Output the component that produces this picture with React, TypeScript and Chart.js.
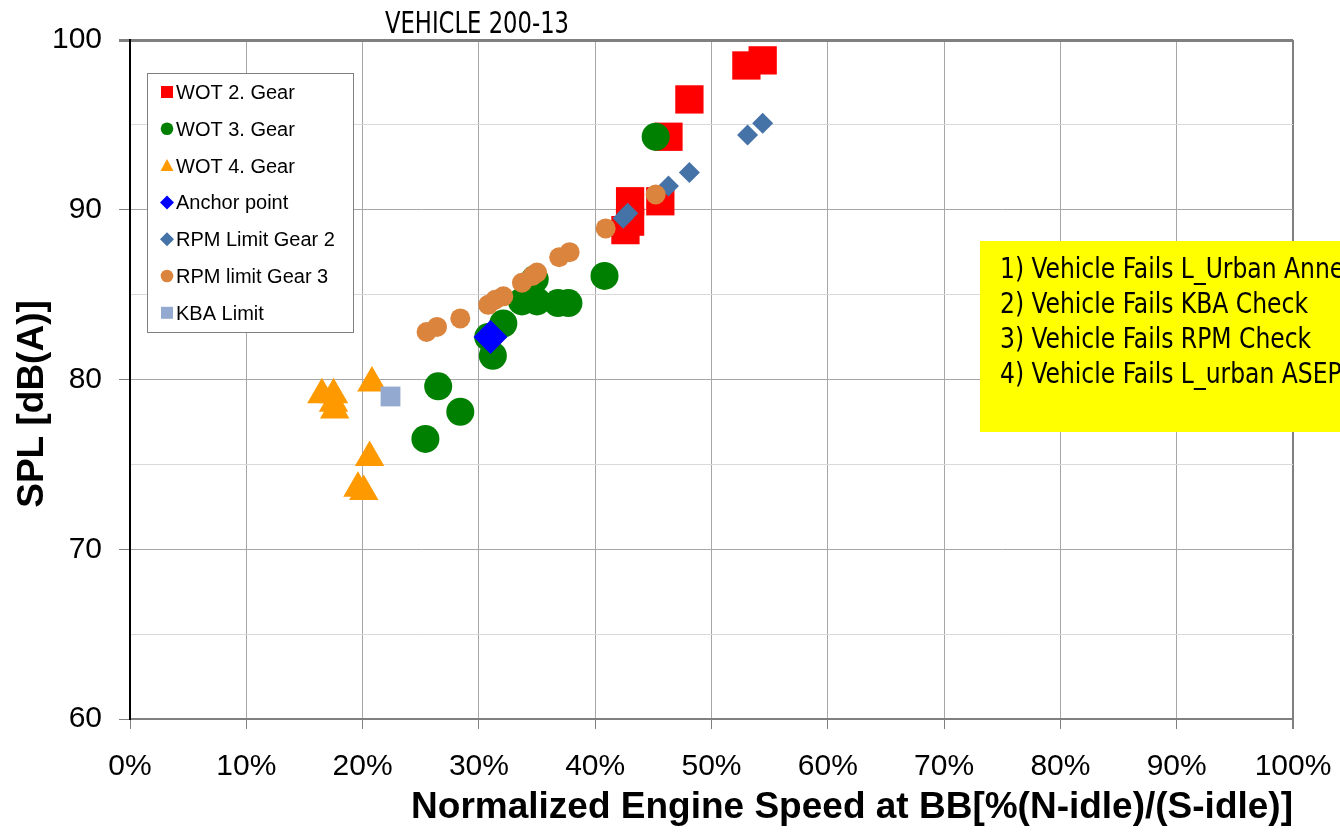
import React, { useEffect, useRef } from "react";
import { Chart, registerables } from "chart.js";

Chart.register(...registerables);

const FONT = "'Liberation Sans', Arial, Helvetica, sans-serif";
const NARROW = "'Liberation Sans Narrow', 'Arial Narrow', 'DejaVu Sans Condensed', sans-serif";

// ---- texts ----
const chartTitle = "VEHICLE 200-13";
const xAxisTitle = "Normalized Engine Speed at BB[%(N-idle)/(S-idle)]";
const yAxisTitle = "SPL [dB(A)]";
const xTickValues = [0, 10, 20, 30, 40, 50, 60, 70, 80, 90, 100];
const yTickLabels = [60, 70, 80, 90, 100];
const noteLines = [
  "1) Vehicle Fails L_Urban Annex 3",
  "2) Vehicle Fails KBA Check",
  "3) Vehicle Fails RPM Check",
  "4) Vehicle Fails L_urban ASEP",
];

// ---- series names ----
const seriesNames = [
  "WOT 2. Gear",
  "WOT 3. Gear",
  "WOT 4. Gear",
  "Anchor point",
  "RPM Limit Gear 2",
  "RPM limit Gear 3",
  "KBA Limit",
];

// ---- data: [normalized engine speed %, SPL dB(A)] ----
const wot2Gear = [
  [54.4, 98.8], [53.0, 98.5], [48.1, 96.5], [46.3, 94.3],
  [45.6, 90.5], [43.0, 90.5], [43.0, 89.3], [42.6, 88.8],
];
const wot3Gear = [
  [45.2, 94.3], [40.8, 86.1], [37.7, 84.5], [36.8, 84.5], [35.0, 84.6],
  [33.7, 84.6], [34.8, 85.9], [32.1, 83.3], [30.8, 82.5], [31.2, 81.4],
  [26.5, 79.6], [28.4, 78.1], [25.4, 76.5],
];
const wot4Gear = [
  [16.5, 79.1], [17.5, 79.1], [17.5, 78.6], [17.6, 78.2],
  [20.8, 79.8], [20.6, 75.4], [19.6, 73.6], [20.1, 73.4],
];
const anchorPoint = [[31.0, 82.5]];
const rpmLimitGear2 = [
  [54.4, 95.1], [53.1, 94.4], [48.1, 92.2], [46.3, 91.4], [42.8, 89.8], [42.4, 89.5],
];
const rpmLimitGear3 = [
  [45.2, 90.9], [40.9, 88.9], [37.8, 87.5], [36.9, 87.2], [35.0, 86.3], [34.6, 86.1],
  [33.7, 85.7], [32.1, 84.9], [31.4, 84.7], [30.8, 84.4], [28.4, 83.6], [26.4, 83.1], [25.5, 82.8],
];
const kbaLimit = [[22.4, 79.0]];

const seriesData = [wot2Gear, wot3Gear, wot4Gear, anchorPoint, rpmLimitGear2, rpmLimitGear3, kbaLimit];

// ---- styles ----
const seriesStyles = [
  { color: "#ff0000", shape: "rect", radius: 20 },
  { color: "#008000", shape: "circle", radius: 14 },
  { color: "#ff9900", shape: "triangle", radius: 17 },
  { color: "#0000ff", shape: "rectRot", radius: 17 },
  { color: "#4572a7", shape: "rectRot", radius: 10.5 },
  { color: "#db843d", shape: "circle", radius: 10 },
  { color: "#93a9cf", shape: "rect", radius: 14 },
];

function drawLegendMarker(ctx: CanvasRenderingContext2D, shape: string, cx: number, cy: number, color: string) {
  ctx.fillStyle = color;
  ctx.beginPath();
  if (shape === "rect") {
    ctx.rect(cx - 6, cy - 6, 12, 12);
  } else if (shape === "circle") {
    ctx.arc(cx, cy, 6.3, 0, Math.PI * 2);
  } else if (shape === "triangle") {
    ctx.moveTo(cx, cy - 6.5);
    ctx.lineTo(cx + 6.5, cy + 5.5);
    ctx.lineTo(cx - 6.5, cy + 5.5);
    ctx.closePath();
  } else {
    ctx.moveTo(cx, cy - 7);
    ctx.lineTo(cx + 7, cy);
    ctx.lineTo(cx, cy + 7);
    ctx.lineTo(cx - 7, cy);
    ctx.closePath();
  }
  ctx.fill();
}

// draw condensed text: font chosen for glyph height, squeezed horizontally to a target width
function narrowText(
  ctx: CanvasRenderingContext2D,
  text: string,
  x: number,
  y: number,
  sx: number,
  align: CanvasTextAlign
) {
  ctx.save();
  ctx.translate(x, y);
  ctx.scale(sx, 1);
  ctx.textAlign = align;
  ctx.fillText(text, 0, 0);
  ctx.restore();
}

const decorPlugin = {
  id: "decor",
  afterDatasetsDraw(chart: any) {
    const ctx: CanvasRenderingContext2D = chart.ctx;
    ctx.save();
    // legend
    const lx = 147, ly = 73, lw = 206, lh = 259;
    ctx.fillStyle = "#ffffff";
    ctx.fillRect(lx, ly, lw, lh);
    ctx.strokeStyle = "#808080";
    ctx.lineWidth = 1;
    ctx.strokeRect(lx + 0.5, ly + 0.5, lw, lh);
    ctx.font = `20px ${FONT}`;
    ctx.textAlign = "left";
    ctx.textBaseline = "alphabetic";
    chart.data.datasets.forEach((ds: any, i: number) => {
      const cy = 92 + i * 36.8;
      drawLegendMarker(ctx, seriesStyles[i].shape, 167, cy, seriesStyles[i].color);
      ctx.fillStyle = "#000000";
      ctx.fillText(ds.label, 176, cy + 7);
    });

    // note box
    ctx.fillStyle = "#ffff00";
    ctx.fillRect(980, 241, 400, 191);
    ctx.fillStyle = "#000000";
    ctx.font = `28px ${NARROW}`;
    const refW = ctx.measureText(noteLines[1]).width;
    const sx = Math.min(1, 308 / refW);
    noteLines.forEach((t, i) => {
      narrowText(ctx, t, 1000, 278 + i * 35, sx, "left");
    });
    ctx.restore();
  },
  afterDraw(chart: any) {
    const ctx: CanvasRenderingContext2D = chart.ctx;
    ctx.save();
    ctx.fillStyle = "#000000";
    ctx.font = `31px ${NARROW}`;
    ctx.textBaseline = "alphabetic";
    const tw = ctx.measureText(chartTitle).width;
    narrowText(ctx, chartTitle, 477, 33, Math.min(1, 184 / tw), "center");

    ctx.translate(33, 404);
    ctx.rotate(-Math.PI / 2);
    ctx.font = `bold 37px ${FONT}`;
    ctx.textAlign = "center";
    ctx.textBaseline = "middle";
    ctx.fillText(yAxisTitle, 0, 0);
    ctx.restore();
  },
};

export default function App() {
  const canvasRef = useRef<HTMLCanvasElement | null>(null);

  useEffect(() => {
    if (!canvasRef.current) return;
    const datasets = seriesData.map((pts, i) => ({
      label: seriesNames[i],
      data: pts.map(([x, y]) => ({ x, y })),
      pointStyle: seriesStyles[i].shape,
      pointRadius: seriesStyles[i].radius,
      pointHoverRadius: seriesStyles[i].radius,
      backgroundColor: seriesStyles[i].color,
      borderColor: seriesStyles[i].color,
      pointBorderWidth: 0,
      showLine: false,
      order: seriesData.length - i,
    }));

    const chart = new Chart(canvasRef.current, {
      type: "scatter",
      data: { datasets },
      plugins: [decorPlugin],
      options: {
        animation: false,
        responsive: true,
        maintainAspectRatio: false,
        layout: { padding: { top: 40, right: 47, left: 0, bottom: 0 } },
        plugins: {
          legend: { display: false },
          title: { display: false },
          tooltip: { enabled: false },
        },
        scales: {
          x: {
            type: "linear",
            min: xTickValues[0],
            max: xTickValues[xTickValues.length - 1],
            afterBuildTicks: (s: any) => {
              s.ticks = xTickValues.map((v) => ({ value: v }));
            },
            ticks: {
              callback: (v: any) => `${v}%`,
              font: { size: 30, family: FONT, lineHeight: 2.5 },
              color: "#000000",
              padding: 0,
              maxRotation: 0,
              autoSkip: false,
            },
            grid: {
              color: (c: any) => (c.tick && c.tick.value === 100 ? "#808080" : "#a6a6a6"),
              lineWidth: (c: any) => (c.tick && c.tick.value === 100 ? 2 : 1),
              tickLength: 10,
              tickColor: "#808080",
            },
            border: { color: "#808080", width: 2 },
            title: {
              display: true,
              text: xAxisTitle,
              align: "end",
              color: "#000000",
              font: { size: 37, weight: "bold", family: FONT },
              padding: { top: 0, bottom: 2 },
            },
            afterFit: (s: any) => {
              s.height = 113;
            },
          },
          y: {
            type: "linear",
            min: yTickLabels[0],
            max: yTickLabels[yTickLabels.length - 1],
            ticks: {
              stepSize: 5,
              callback: (v: any) => (yTickLabels.includes(Number(v)) ? String(v) : ""),
              font: { size: 30, family: FONT },
              color: "#000000",
              padding: 17,
              autoSkip: false,
            },
            grid: {
              color: (c: any) => {
                const v = c.tick ? c.tick.value : 0;
                if (v === 100) return "#808080";
                return v % 10 === 0 ? "#a6a6a6" : "#d9d9d9";
              },
              lineWidth: (c: any) => (c.tick && c.tick.value === 100 ? 3 : 1),
              tickLength: 11,
              tickColor: (c: any) => (c.tick && c.tick.value % 10 === 0 ? "#808080" : "rgba(0,0,0,0)"),
            },
            border: { color: "#000000", width: 2 },
            afterFit: (s: any) => {
              s.width = 130;
            },
          },
        },
      },
    });
    return () => chart.destroy();
  }, []);

  return (
    <div style={{ position: "fixed", left: 0, top: 0, width: 1340, height: 832, background: "#ffffff" }}>
      <canvas ref={canvasRef} />
    </div>
  );
}
